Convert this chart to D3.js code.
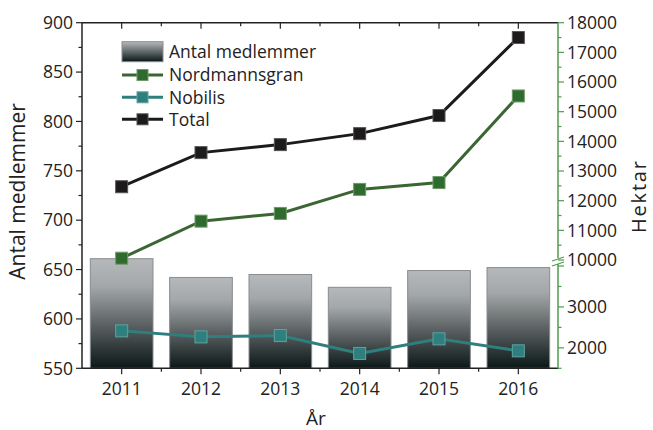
<!DOCTYPE html>
<html><head><meta charset="utf-8">
<script src="https://cdn.jsdelivr.net/npm/d3@7"></script>
<style>body{margin:0;background:#fff}svg{display:block}text{font-family:"Open Sans",sans-serif;fill:#222}</style>
</head><body><svg id="c" width="653" height="430"></svg>
<script>
const years = ["2011","2012","2013","2014","2015","2016"];
const members = [661, 642, 645, 632, 649, 652];
const nordmannsgran = [10060, 11310, 11570, 12380, 12610, 15530];
const nobilis = [2415, 2268, 2300, 1863, 2220, 1927];
const total = [12470, 13620, 13890, 14260, 14870, 17500];
const leftTicks = [550,600,650,700,750,800,850,900];
const rightUpperTicks = [10000,11000,12000,13000,14000,15000,16000,17000,18000];
const rightLowerTicks = [2000,3000];
const legendItems = ["Antal medlemmer","Nordmannsgran","Nobilis","Total"];

const svg = d3.select("#c");
const L = 82, R = 558, T = 22.7, B = 368.3;
const x = d3.scaleBand().domain(years).range([L,R]).paddingInner(0.21).paddingOuter(0.105);
const xc = d => x(d) + x.bandwidth()/2;
const yL = d3.scaleLinear().domain([550,900]).range([B,T]);
const yRU = d3.scaleLinear().domain([10000,18000]).range([260,T]);
const yRL = d3.scaleLinear().domain([1500,4000]).range([B,266]);

const defs = svg.append("defs");
const g = defs.append("linearGradient").attr("id","bg").attr("x1",0).attr("y1",0).attr("x2",0).attr("y2",1);
g.append("stop").attr("offset","0%").attr("stop-color","#b5b9bb");
g.append("stop").attr("offset","25%").attr("stop-color","#a3a7a9");
g.append("stop").attr("offset","60%").attr("stop-color","#5c6263");
g.append("stop").attr("offset","100%").attr("stop-color","#0b1717");
const lg = defs.append("linearGradient").attr("id","lg").attr("x1",0).attr("y1",0).attr("x2",0).attr("y2",1);
lg.append("stop").attr("offset","0%").attr("stop-color","#b5b9bb");
lg.append("stop").attr("offset","100%").attr("stop-color","#0b1717");

// bars
svg.append("g").selectAll("rect").data(years).join("rect")
  .attr("x", d=>x(d)).attr("width", x.bandwidth())
  .attr("y", (d,i)=>yL(members[i])).attr("height",(d,i)=>B-yL(members[i]))
  .attr("fill","url(#bg)").attr("stroke","#8a8c8d").attr("stroke-width",1);

// lines
function series(vals, scale, color, mfill, mstroke){
  const line = d3.line().x((d,i)=>xc(years[i])).y(d=>scale(d));
  svg.append("path").datum(vals).attr("d",line).attr("fill","none").attr("stroke",color).attr("stroke-width",3);
  svg.append("g").selectAll("rect").data(vals).join("rect")
    .attr("x",(d,i)=>xc(years[i])-6).attr("y",d=>scale(d)-6).attr("width",12).attr("height",12)
    .attr("fill",mfill).attr("stroke",mstroke).attr("stroke-width",1);
}
series(nordmannsgran, yRU, "#3b6634", "#2f6a2e", "#6d9a68");
series(nobilis, yRL, "#2f7f7e", "#2f7f7e", "#5fa3a2");
series(total, yRU, "#1c1a1b", "#1c1a1b", "#555");

// axes
const ax = svg.append("g");
// left
ax.append("line").attr("x1",L).attr("x2",L).attr("y1",T).attr("y2",B).attr("stroke","#222").attr("stroke-width",1.5);
d3.range(550,901,25).forEach(v=>{
  const major = v%50===0;
  ax.append("line").attr("x1",L).attr("x2",L-(major?6:3.5)).attr("y1",yL(v)).attr("y2",yL(v)).attr("stroke","#222").attr("stroke-width",1.2);
});
ax.selectAll(".lt").data(leftTicks).join("text").attr("x",L-9).attr("y",d=>yL(d)).attr("dy","0.36em")
  .attr("text-anchor","end").attr("font-size",17.5).text(d=>d);
// top
ax.append("line").attr("x1",L).attr("x2",R).attr("y1",T).attr("y2",T).attr("stroke","#222").attr("stroke-width",1.5);
// bottom
ax.append("line").attr("x1",L).attr("x2",R).attr("y1",B).attr("y2",B).attr("stroke","#222").attr("stroke-width",1.5);
years.forEach(d=>{
  ax.append("line").attr("x1",xc(d)).attr("x2",xc(d)).attr("y1",B).attr("y2",B+6).attr("stroke","#222").attr("stroke-width",1.2);
  ax.append("line").attr("x1",xc(d)).attr("x2",xc(d)).attr("y1",T).attr("y2",T+6).attr("stroke","#222").attr("stroke-width",1.2);
});
const step = x.step();
for(let i=1;i<years.length;i++){
  const xx = L + i*step;
  ax.append("line").attr("x1",xx).attr("x2",xx).attr("y1",B).attr("y2",B+3.5).attr("stroke","#222").attr("stroke-width",1.2);
  ax.append("line").attr("x1",xx).attr("x2",xx).attr("y1",T).attr("y2",T+3.5).attr("stroke","#222").attr("stroke-width",1.2);
}
ax.selectAll(".bt").data(years).join("text").attr("x",d=>xc(d)).attr("y",B+27)
  .attr("text-anchor","middle").attr("font-size",17.5).text(d=>d);
// right (green, broken)
const gc = "#4f9a4f";
ax.append("line").attr("x1",R).attr("x2",R).attr("y1",T).attr("y2",258).attr("stroke",gc).attr("stroke-width",1.5);
ax.append("line").attr("x1",R).attr("x2",R).attr("y1",264).attr("y2",B).attr("stroke",gc).attr("stroke-width",1.5);
d3.range(10000,18001,500).forEach(v=>{
  const major = v%1000===0;
  ax.append("line").attr("x1",R).attr("x2",R+(major?6:3.5)).attr("y1",yRU(v)).attr("y2",yRU(v)).attr("stroke",gc).attr("stroke-width",1.2);
});
d3.range(1500,4001,500).forEach(v=>{
  const major = v%1000===0;
  ax.append("line").attr("x1",R).attr("x2",R+(major?6:3.5)).attr("y1",yRL(v)).attr("y2",yRL(v)).attr("stroke",gc).attr("stroke-width",1.2);
});
ax.append("line").attr("x1",R-6).attr("x2",R+6).attr("y1",261).attr("y2",257).attr("stroke",gc).attr("stroke-width",1.3);
ax.append("line").attr("x1",R-6).attr("x2",R+6).attr("y1",266).attr("y2",262).attr("stroke",gc).attr("stroke-width",1.3);
ax.selectAll(".rt").data(rightUpperTicks).join("text").attr("x",R+9).attr("y",d=>yRU(d)).attr("dy","0.36em")
  .attr("font-size",17.5).text(d=>d);
ax.selectAll(".rl").data(rightLowerTicks).join("text").attr("x",R+9).attr("y",d=>yRL(d)).attr("dy","0.36em")
  .attr("font-size",17.5).text(d=>d);

// titles
svg.append("text").attr("transform","translate(25,191.5) rotate(-90)").attr("text-anchor","middle").attr("font-size",21).text("Antal medlemmer");
svg.append("text").attr("transform","translate(646,197) rotate(-90)").attr("text-anchor","middle").attr("font-size",20)
  .attr("textLength",72).attr("lengthAdjust","spacing").text("Hektar");
svg.append("text").attr("x",316).attr("y",425).attr("text-anchor","middle").attr("font-size",19).text("År");

// legend
const lgY = [51.7, 75, 97.3, 119.3];
const lgx1 = 122, lgx2 = 163;
const leg = svg.append("g");
leg.append("rect").attr("x",lgx1).attr("y",lgY[0]-10).attr("width",lgx2-lgx1).attr("height",20).attr("fill","url(#lg)").attr("stroke","#8a8c8d");
const lcols = [null,["#3b6634","#2f6a2e","#6d9a68"],["#2f7f7e","#2f7f7e","#5fa3a2"],["#1c1a1b","#1c1a1b","#555"]];
for(let i=1;i<4;i++){
  leg.append("line").attr("x1",lgx1).attr("x2",lgx2).attr("y1",lgY[i]).attr("y2",lgY[i]).attr("stroke",lcols[i][0]).attr("stroke-width",3);
  leg.append("rect").attr("x",(lgx1+lgx2)/2-5.5).attr("y",lgY[i]-5.5).attr("width",11).attr("height",11).attr("fill",lcols[i][1]).attr("stroke",lcols[i][2]);
}
leg.selectAll("text").data(legendItems).join("text").attr("x",169).attr("y",(d,i)=>lgY[i]).attr("dy","0.36em")
  .attr("font-size",17.5).text(d=>d);
</script></body></html>
